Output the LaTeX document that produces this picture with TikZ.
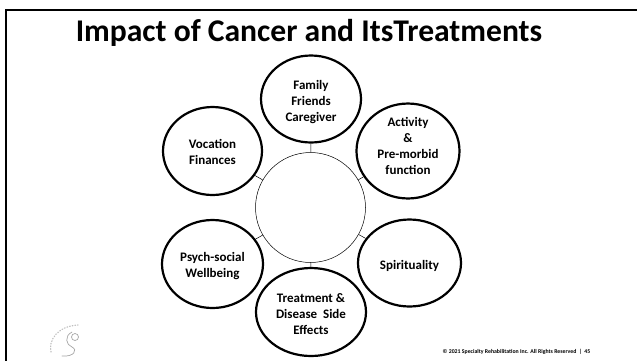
\documentclass[tikz,border=0pt]{standalone}
\usepackage{fontspec}
\setmainfont{Carlito}
\usetikzlibrary{shapes.geometric}
\newcommand{\lift}[1]{\rule{0pt}{#1pt}}
\tikzset{
  x=1pt,y=-1pt,
  petal/.style={ellipse,draw=black,line width=2.2pt,minimum width=#1,inner sep=0pt,align=center,font=\fontsize{13}{16}\selectfont\bfseries},
  hub/.style={circle,draw=black,line width=0.5pt,minimum size=110pt,inner sep=0pt},
  link/.style={draw=black,line width=0.5pt},
  logo/.style={draw=black!35,line width=0.7pt,line cap=round}
}
\begin{document}
\begin{tikzpicture}
\useasboundingbox (0,0) rectangle (637,360);
\fill[white] (0,0) rectangle (637,360);
\draw[black,line width=2pt] (6,362) -- (6,10) -- (639,10);
\node[font=\fontsize{31.6}{36}\selectfont\bfseries,inner sep=0pt,anchor=base] (title) at (309,41) {Impact of Cancer and ItsTreatments};
\node[hub] (c) at (310.5,207.5) {};
\node[petal=100pt,minimum height=87pt] (fam) at (311,99) {\lift{16}Family\\Friends\\Caregiver};
\node[petal=99pt,minimum height=88pt] (voc) at (212.5,151) {\lift{11}Vocation\\Finances};
\node[petal=103pt,minimum height=88pt] (act) at (408,151) {Activity\\\&\\Pre-morbid\\function\rule[-10pt]{0pt}{10pt}};
\node[petal=101pt,minimum height=88pt] (psy) at (212.5,264) {\lift{12.5}Psych-social\\Wellbeing};
\node[petal=103pt,minimum height=87pt] (spi) at (409.5,263) {\lift{15}Spirituality};
\node[petal=110pt,minimum height=88pt] (tre) at (311,312) {\lift{12.5}Treatment \&\\Disease\ \ Side\\Effects};
\foreach \p in {fam,voc,act,psy,spi,tre} \draw[link] (c) -- (\p);
\node[font=\fontsize{5.8}{7}\selectfont\bfseries,inner sep=0pt] (foot) at (516.5,352) {© 2021 Specialty Rehabilitation Inc. All Rights Reserved \ | \ 45};
% logo
\draw[logo,dotted,line width=1.2pt,draw=black!25] (51,352) .. controls (48,340) and (58,326) .. (78,325);
\draw[logo] (72,332) .. controls (64,336) and (66,345) .. (72,347) .. controls (78,350) and (74,357) .. (62,356);
\draw[logo] (75,337) circle (3.5);
\end{tikzpicture}
\end{document}
